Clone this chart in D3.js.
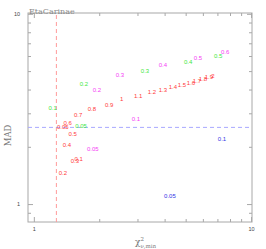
<!DOCTYPE html>
<html>
<head>
<meta charset="utf-8">
<script src="https://cdn.jsdelivr.net/npm/d3@7"></script>
<style>
  body { margin: 0; background: #fff; }
  svg { display: block; }
</style>
</head>
<body>
<div id="chart"></div>
<script>
// chart values: [chi2, MAD, label]
const redPts = [
  [1.36, 2.53, "0.05"], [1.61, 1.72, "0.1"], [1.36, 1.45, "0.2"], [1.545, 1.68, "0.3"],
  [1.42, 2.04, "0.4"], [1.51, 2.35, "0.5"], [1.43, 2.66, "0.6"], [1.60, 2.96, "0.7"],
  [1.85, 3.18, "0.8"], [2.22, 3.34, "0.9"], [2.54, 3.55, "1"], [3.02, 3.72, "1.1"],
  [3.50, 3.91, "1.2"], [3.93, 4.00, "1.3"], [4.37, 4.15, "1.4"], [4.81, 4.25, "1.5"],
  [5.29, 4.35, "1.6"], [5.64, 4.46, "1.7"], [6.01, 4.57, "1.8"], [6.40, 4.68, "1.9"],
  [6.68, 4.74, "2"]
];
const greenPts = [
  [1.65, 2.59, "0.05"], [1.22, 3.22, "0.1"], [1.70, 4.30, "0.2"], [3.25, 5.03, "0.3"],
  [5.13, 5.61, "0.4"], [7.05, 6.03, "0.5"]
];
const magentaPts = [
  [1.87, 1.96, "0.05"], [2.95, 2.82, "0.1"], [1.95, 4.00, "0.2"], [2.49, 4.79, "0.3"],
  [3.93, 5.41, "0.4"], [5.70, 5.88, "0.5"], [7.59, 6.33, "0.6"]
];
const bluePts = [
  [4.23, 1.11, "0.05"], [7.35, 2.19, "0.1"]
];
const xCut = 1.27;
const yCut = 2.53;
const majorTicks = [1, 10];
const minorTicks = [0.9, 2, 3, 4, 5, 6, 7, 8, 9];

const W = 266, H = 249;
const margin = { top: 13, right: 14, bottom: 27, left: 28 };

const x = d3.scaleLog().domain([0.94, 10.1]).range([margin.left, W - margin.right]);
const y = d3.scaleLog().domain([0.805, 10.1]).range([H - margin.bottom, margin.top]);

const svg = d3.select("#chart").append("svg")
  .attr("width", W).attr("height", H);

const axisColor = "#a8a8a8";

// box
svg.append("rect")
  .attr("x", x.range()[0]).attr("y", y.range()[1])
  .attr("width", x.range()[1] - x.range()[0])
  .attr("height", y.range()[0] - y.range()[1])
  .attr("fill", "none").attr("stroke", axisColor).attr("stroke-width", 1);

function styleAxis(g) {
  g.select(".domain").remove();
  g.selectAll(".tick line").attr("stroke", axisColor);
  g.selectAll(".tick text").attr("fill", "#444")
    .style("font-family", "Liberation Sans, Arial, sans-serif").style("font-size", "5.5px");
}

const xMinor = minorTicks.filter(v => v > x.domain()[0]);
const yMinor = minorTicks.filter(v => v > y.domain()[0]);

// bottom
svg.append("g").attr("transform", `translate(0,${y.range()[0]})`)
  .call(d3.axisBottom(x).tickValues(majorTicks).tickSize(-5).tickPadding(3).tickFormat(d3.format("d")))
  .call(styleAxis)
  .selectAll(".tick text").attr("dy", "1em");
svg.append("g").attr("transform", `translate(0,${y.range()[0]})`)
  .call(d3.axisBottom(x).tickValues(xMinor).tickSize(-3).tickFormat(""))
  .call(styleAxis);
// top
svg.append("g").attr("transform", `translate(0,${y.range()[1]})`)
  .call(d3.axisTop(x).tickValues(majorTicks).tickSize(-5).tickFormat(""))
  .call(styleAxis);
svg.append("g").attr("transform", `translate(0,${y.range()[1]})`)
  .call(d3.axisTop(x).tickValues(xMinor).tickSize(-3).tickFormat(""))
  .call(styleAxis);
// left
svg.append("g").attr("transform", `translate(${x.range()[0]},0)`)
  .call(d3.axisLeft(y).tickValues(majorTicks).tickSize(-5).tickPadding(8).tickFormat(d3.format("d")))
  .call(styleAxis);
svg.append("g").attr("transform", `translate(${x.range()[0]},0)`)
  .call(d3.axisLeft(y).tickValues(yMinor).tickSize(-3).tickFormat(""))
  .call(styleAxis);
// right
svg.append("g").attr("transform", `translate(${x.range()[1]},0)`)
  .call(d3.axisRight(y).tickValues(majorTicks).tickSize(-5).tickFormat(""))
  .call(styleAxis);
svg.append("g").attr("transform", `translate(${x.range()[1]},0)`)
  .call(d3.axisRight(y).tickValues(yMinor).tickSize(-3).tickFormat(""))
  .call(styleAxis);

// cut lines
svg.append("line")
  .attr("x1", x(xCut)).attr("x2", x(xCut))
  .attr("y1", y.range()[0]).attr("y2", y.range()[1])
  .attr("stroke", "#ff9a9a").attr("stroke-width", 1).attr("stroke-dasharray", "4,3");
svg.append("line")
  .attr("x1", x.range()[0]).attr("x2", x.range()[1])
  .attr("y1", y(yCut)).attr("y2", y(yCut))
  .attr("stroke", "#a8a8ff").attr("stroke-width", 1).attr("stroke-dasharray", "4,3");

// labelled points
const series = [
  { data: redPts, color: "#ff3b3b" },
  { data: greenPts, color: "#3ee83e" },
  { data: magentaPts, color: "#f53cf5" },
  { data: bluePts, color: "#3434e6" }
];
series.forEach(s => {
  svg.append("g").selectAll("text")
    .data(s.data)
    .join("text")
    .attr("x", d => x(d[0]))
    .attr("y", d => y(d[1]))
    .attr("dy", "0.35em")
    .attr("text-anchor", "middle")
    .attr("fill", s.color)
    .style("font-family", "Liberation Sans, Arial, sans-serif")
    .style("font-size", "6px")
    .text(d => d[2]);
});

// title
svg.append("text")
  .attr("x", x.range()[0] + 1).attr("y", y.range()[1] + 0.5)
  .attr("fill", "#8a8a8a")
  .style("font-family", "DejaVu Serif, serif").style("font-size", "8px")
  .text("EtaCarinae");

// y label
svg.append("text")
  .attr("transform", `translate(11,${(y.range()[0] + y.range()[1]) / 2 + 18}) rotate(-90)`)
  .attr("text-anchor", "middle")
  .attr("fill", "#777")
  .style("font-family", "DejaVu Serif, serif").style("font-size", "8.5px")
  .text("MAD");

// x label
const xl = svg.append("text")
  .attr("x", 135).attr("y", 245)
  .attr("fill", "#777")
  .style("font-family", "DejaVu Serif, serif").style("font-size", "9px");
xl.append("tspan").text("χ");
xl.append("tspan").attr("dy", -4).style("font-size", "5.5px").text("2");
xl.append("tspan").attr("dx", -3.5).attr("dy", 6.5).style("font-size", "5.5px").text("ν,min");
</script>
</body>
</html>
